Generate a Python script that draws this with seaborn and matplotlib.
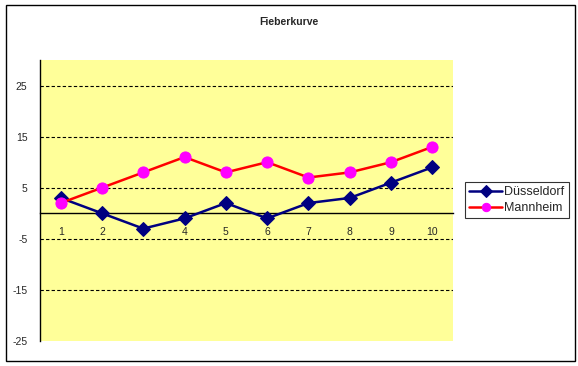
import matplotlib
matplotlib.use("Agg")
import matplotlib.pyplot as plt
import seaborn as sns
import pandas as pd
from matplotlib.patches import Rectangle

categories = [1, 2, 3, 4, 5, 6, 7, 8, 9, 10]
duesseldorf = [3, 0, -3, -1, 2, -1, 2, 3, 6, 9]
mannheim = [2, 5, 8, 11, 8, 10, 7, 8, 10, 13]
y_ticks = [-25, -15, -5, 5, 15, 25]
grid_levels = [-15, -5, 5, 15, 25]

df = pd.DataFrame({
    "x": categories * 2,
    "y": duesseldorf + mannheim,
    "Stadt": ["Düsseldorf"] * len(categories) + ["Mannheim"] * len(categories),
})

sns.set_theme(style="white")
plt.rcParams['font.family'] = ['Liberation Sans', 'DejaVu Sans']

fig = plt.figure(figsize=(5.78, 3.66), dpi=100)
fig.patch.set_facecolor("white")
fig.add_artist(Rectangle((6 / 578, 1 - 361 / 366), 569 / 578, 356 / 366,
                         transform=fig.transFigure, fill=False,
                         edgecolor="black", linewidth=1))

ax = fig.add_axes([40 / 578, 1 - 341 / 366, 413 / 578, 281 / 366])
ax.set_facecolor("#FFFF99")

for lvl in grid_levels:
    ax.axhline(lvl, color="black", linestyle=(0, (3, 2)), linewidth=0.8, zorder=1)

d = df[df["Stadt"] == "Düsseldorf"]
m = df[df["Stadt"] == "Mannheim"]
sns.lineplot(data=d, x="x", y="y", ax=ax, color="#000080", linewidth=1.8,
             marker="D", markersize=7, markeredgecolor="#000080",
             markerfacecolor="#000080", label="Düsseldorf", zorder=3)
sns.lineplot(data=m, x="x", y="y", ax=ax, color="#FF0000", linewidth=1.8,
             marker="o", markersize=8, markeredgecolor="#FF00FF",
             markerfacecolor="#FF00FF", label="Mannheim", zorder=3)

ax.set_xlim(0.5, 10.5)
ax.set_ylim(-25, 30)
ax.set_yticks(y_ticks)
ax.set_yticklabels([str(v) for v in y_ticks])
ax.set_xticks(categories)
ax.set_xticklabels([str(c) for c in categories])
ax.set_xticks([c + 0.5 for c in categories[:-1]], minor=True)
ax.tick_params(axis="both", which="both", labelsize=7.5)
ax.tick_params(axis="x", which="major", length=0, pad=10)
ax.tick_params(axis="x", which="minor", length=3, direction="out", width=0.8, color="black")
ax.tick_params(axis="y", which="major", length=3, direction="out", width=0.8, color="black", pad=6)
ax.set_xlabel("")
ax.set_ylabel("")

ax.spines["top"].set_visible(False)
ax.spines["right"].set_visible(False)
ax.spines["left"].set_color("black")
ax.spines["left"].set_linewidth(1)
ax.spines["bottom"].set_position(("data", 0))
ax.spines["bottom"].set_color("black")
ax.spines["bottom"].set_linewidth(1)

leg = ax.legend(loc="center left", bbox_to_anchor=(465 / 578, 1 - 200 / 366),
                bbox_transform=fig.transFigure, fontsize=9, frameon=True,
                fancybox=False, edgecolor="black", handlelength=2.6,
                handletextpad=0.2, borderpad=0.35, labelspacing=0.3,
                borderaxespad=0)
leg.get_frame().set_linewidth(0.8)
for h in leg.legend_handles:
    h.set_markersize(6)

fig.text(289 / 578, 1 - 22 / 366, "Fieberkurve", ha="center", va="center",
         fontsize=7.5, fontweight="bold")

fig.savefig("out.png", dpi=100)
